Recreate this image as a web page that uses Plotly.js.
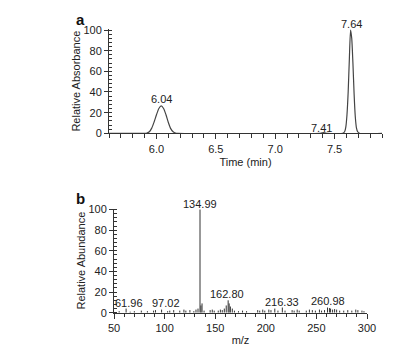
<!DOCTYPE html>
<html>
<head>
<meta charset="utf-8">
<script src="https://cdn.plot.ly/plotly-3.0.1.min.js"></script>
<style>html,body{margin:0;padding:0;background:#fff;}#chart{width:414px;height:355px;}</style>
</head>
<body>
<div id="chart"></div>
<script>
// Panel a: chromatogram
const timeMin = [5.60, 5.90, 5.92, 5.94, 5.96, 5.98, 6.00, 6.02, 6.04, 6.06, 6.08, 6.10, 6.12, 6.14, 6.16, 6.18, 7.38, 7.41, 7.44, 7.57, 7.585, 7.595, 7.605, 7.615, 7.625, 7.635, 7.645, 7.655, 7.665, 7.675, 7.685, 7.695, 7.71, 7.90];
const absorbance = [0, 0, 0.3, 1.5, 5, 11, 18, 24, 26.5, 24, 18, 10.5, 4.5, 1.5, 0.3, 0, 0, 0.6, 0, 0, 1.5, 6, 18, 40, 72, 100, 92, 68, 38, 16, 5, 1.5, 0, 0];
const peakLabelsA = ["6.04", "7.41", "7.64"];
const peakLabelXA = [6.04, 7.39, 7.64];
const peakLabelYA = [33, 5, 100];
const peakLabelShiftYA = [0, 0, 6];

// Panel b: mass spectrum
const mz = [55.1, 61.96, 66.0, 70.1, 77.0, 83.0, 89.1, 91.0, 97.02, 103.0, 105.1, 109.0, 115.0, 119.1, 121.0, 125.0, 128.9, 131.0, 133.0, 134.99, 135.9, 137.0, 139.0, 145.0, 147.1, 149.0, 153.0, 155.1, 157.0, 159.0, 160.9, 162.80, 163.8, 165.0, 166.9, 169.0, 173.0, 177.0, 181.0, 192.0, 194.0, 197.0, 199.0, 203.0, 205.1, 208.9, 212.0, 216.33, 219.0, 226.0, 228.0, 231.0, 233.0, 240.0, 243.1, 246.0, 249.0, 253.0, 255.1, 258.0, 260.98, 262.9, 264.0, 266.0, 268.0, 270.0, 273.0, 277.0, 281.0, 285.0, 288.9, 291.0, 295.0, 297.0];
const abundance = [1.5, 4, 1, 1.5, 2, 1.5, 2, 2.5, 3, 1.5, 2, 2.5, 2, 3, 2, 2.5, 1.5, 3, 4, 100, 7, 9, 2, 2.5, 3, 2, 2, 3, 2.5, 4, 7, 12, 9, 6, 4, 2, 1.5, 2, 1.5, 2.5, 2, 3, 2, 3, 2.5, 4, 2, 5, 2, 2.5, 2, 3, 2, 2, 3, 2.5, 2, 3, 2, 2.5, 5, 4.5, 4, 3, 3.5, 3, 2, 2, 2.5, 2, 3, 2.5, 2, 1.5];
const peakLabelsB = ["61.96", "97.02", "134.99", "162.80", "216.33", "260.98"];
const peakLabelXB = [61.96, 97.02, 134.99, 162.80, 216.33, 260.98];
const peakLabelYB = [9, 9, 100, 18, 10, 11];
const peakLabelShiftB = [3, 4, 0, -1, 0, 0];
const peakLabelShiftYB = [0, 0, 6, 0, 0, 0];

// stick spectrum built from the arrays
const stickX = [], stickY = [];
mz.forEach((m, i) => { stickX.push(m, m, null); stickY.push(0, abundance[i], null); });

const W = 414, H = 355;
const px = v => v / W;
const py = v => 1 - v / H;
const FONT = "Liberation Sans, Arial, sans-serif";
const TXT = "#222";

const annotations = [];
peakLabelsA.forEach((t, i) => annotations.push({xref: "x", yref: "y", x: peakLabelXA[i], y: peakLabelYA[i], yshift: peakLabelShiftYA[i], text: t, showarrow: false, font: {size: 11, color: TXT, family: FONT}, xanchor: "center", yanchor: "middle"}));
peakLabelsB.forEach((t, i) => annotations.push({xref: "x2", yref: "y2", x: peakLabelXB[i], y: peakLabelYB[i], xshift: peakLabelShiftB[i], yshift: peakLabelShiftYB[i], text: t, showarrow: false, font: {size: 11, color: TXT, family: FONT}, xanchor: "center", yanchor: "middle"}));
annotations.push({xref: "paper", yref: "paper", x: px(80), y: py(19), text: "<b>a</b>", showarrow: false, font: {size: 15, color: "#111", family: FONT}, xanchor: "center", yanchor: "middle"});
annotations.push({xref: "paper", yref: "paper", x: px(80), y: py(198), text: "<b>b</b>", showarrow: false, font: {size: 15, color: "#111", family: FONT}, xanchor: "center", yanchor: "middle"});

const axCommon = {
  showgrid: false, zeroline: false, showline: true, linecolor: "#333", linewidth: 1,
  tickcolor: "#333", tickfont: {size: 11, color: TXT, family: FONT}, automargin: false, fixedrange: true
};

const data = [
  {x: timeMin, y: absorbance, type: "scatter", mode: "lines", line: {color: "#444", width: 1.2, shape: "spline", smoothing: 0.6}, xaxis: "x", yaxis: "y", hoverinfo: "skip"},
  {x: stickX, y: stickY, type: "scatter", mode: "lines", line: {color: "#333", width: 1}, xaxis: "x2", yaxis: "y2", hoverinfo: "skip", connectgaps: false}
];

const layout = {
  width: W, height: H,
  margin: {l: 0, r: 0, t: 0, b: 0},
  paper_bgcolor: "#fff", plot_bgcolor: "#fff",
  showlegend: false,
  font: {family: FONT, color: TXT},
  xaxis: Object.assign({}, axCommon, {
    domain: [px(109), px(382)], range: [5.6, 7.9], anchor: "y",
    tickmode: "array", tickvals: [6.0, 6.5, 7.0, 7.5], ticktext: ["6.0", "6.5", "7.0", "7.5"],
    ticks: "outside", ticklen: 5,
    minor: {dtick: 0.1, tick0: 5.6, ticks: "outside", ticklen: 4, tickcolor: "#333", showgrid: false},
    title: {text: "Time (min)", font: {size: 11, color: TXT, family: FONT}, standoff: 4}
  }),
  yaxis: Object.assign({}, axCommon, {
    domain: [py(133.3), py(29)], range: [0, 101], anchor: "x",
    tickmode: "array", tickvals: [0, 20, 40, 60, 80, 100],
    ticks: "outside", ticklen: 4,
    minor: {dtick: 4, tick0: 0, ticks: "inside", ticklen: 3, tickcolor: "#333", showgrid: false},
    title: {text: "Relative Absorbance", font: {size: 11, color: TXT, family: FONT}, standoff: 0}
  }),
  xaxis2: Object.assign({}, axCommon, {
    domain: [px(114), px(367)], range: [50, 300], anchor: "y2",
    tickmode: "array", tickvals: [50, 100, 150, 200, 250, 300],
    ticks: "outside", ticklen: 5,
    minor: {dtick: 10, tick0: 50, ticks: "outside", ticklen: 3, tickcolor: "#333", showgrid: false},
    title: {text: "m/z", font: {size: 11, color: TXT, family: FONT}, standoff: 3}
  }),
  yaxis2: Object.assign({}, axCommon, {
    domain: [py(312.7), py(208.5)], range: [0, 101], anchor: "x2",
    tickmode: "array", tickvals: [0, 20, 40, 60, 80, 100],
    ticks: "outside", ticklen: 4,
    minor: {dtick: 4, tick0: 0, ticks: "inside", ticklen: 3, tickcolor: "#333", showgrid: false},
    title: {text: "Relative Abundance", font: {size: 11, color: TXT, family: FONT}, standoff: 0}
  }),
  annotations: annotations
};

Plotly.newPlot("chart", data, layout, {displayModeBar: false, staticPlot: true});
</script>
</body>
</html>
